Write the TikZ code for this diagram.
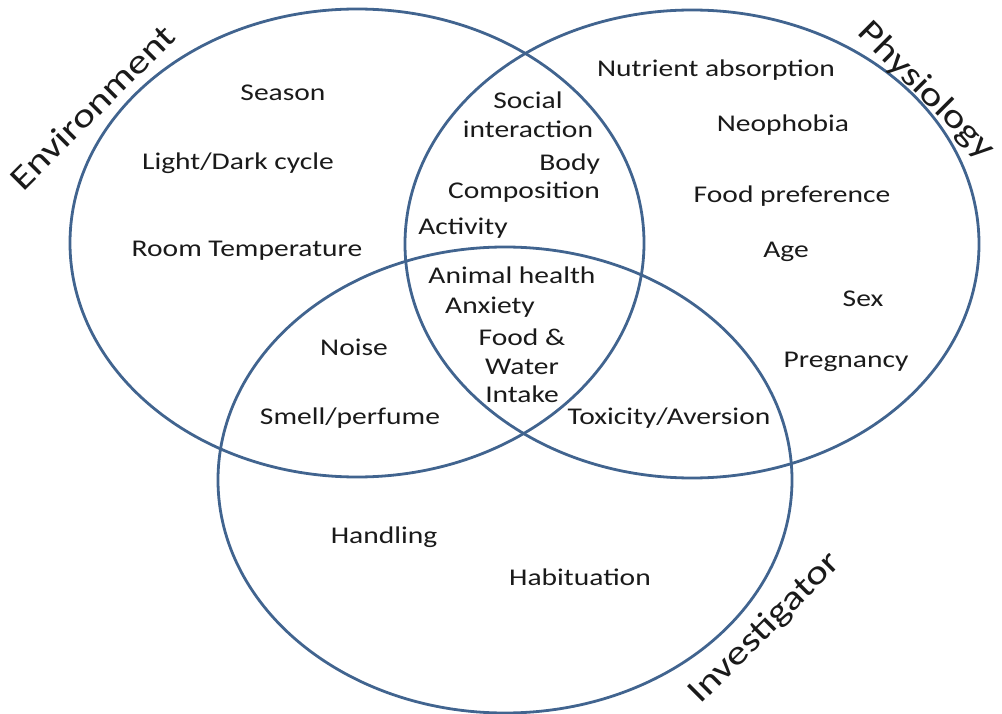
\documentclass[tikz,border=0pt]{standalone}
\usepackage{fontspec}
\setmainfont{Carlito}[FakeStretch=1.23]
\usetikzlibrary{positioning}
\definecolor{vennblue}{HTML}{41648F}
\definecolor{ink}{HTML}{1A1A1A}
\tikzset{
  vring/.style={draw=vennblue, line width=2.8pt},
  fac/.style={font=\fontsize{24}{28.7}\selectfont, text=ink, inner sep=0pt, align=center},
  ttl/.style={font=\fontsize{34}{40}\selectfont, text=ink, inner sep=0pt},
}

\begin{document}
\begin{tikzpicture}[x=1pt, y=-1pt]
  \useasboundingbox (0,0) rectangle (1002,714);

  %% ============================================
  %% THE THREE SETS
  %% ============================================
  \draw[vring] (357,243) ellipse [x radius=287, y radius=234]; % environment
  \draw[vring] (692,244) ellipse [x radius=287, y radius=234]; % physiology
  \draw[vring] (505,480) ellipse [x radius=287, y radius=233]; % investigator

  % Set titles, along the rims
  \node[ttl, rotate=45] (tEnv) at (92,107) {Environment};
  \node[ttl, rotate=-45] (tPhy) at (926,91) {Physiology};
  \node[ttl, rotate=45] (tInv) at (765,628) {Investigator};

  %% ============================================
  %% ENVIRONMENT ONLY
  %% ============================================
  \node[fac] (season) at (283,93) {Season};
  \node[fac] (light) at (238,163) {Light/Dark cycle};
  \node[fac] (room) at (247,251) {Room Temperature};

  %% ============================================
  %% PHYSIOLOGY ONLY
  %% ============================================
  \node[fac] (nutr) at (716,70) {Nutrient absorption};
  \node[fac] (neo) at (783,125) {Neophobia};
  \node[fac] (pref) at (792,196) {Food preference};
  \node[fac] (age) at (786,252) {Age};
  \node[fac] (sex) at (863,299) {Sex};
  \node[fac] (preg) at (846,362) {Pregnancy};

  %% ============================================
  %% OVERLAPS
  %% ============================================
  % Environment & physiology
  \node[fac] (social) at (528,115) {Social\\interaction};
  \node[fac, align=right] (body) at (524,178) {Body\\Composition};
  \node[fac] (activity) at (463,228) {Activity};

  % All three
  \node[fac] (health) at (512,275) {Animal health};
  \node[fac] (anxiety) at (490,307) {Anxiety};
  \node[fac] (intake) at (522,366) {Food \&\\Water\\Intake};

  % Environment & investigator
  \node[fac] (noise) at (354,347) {Noise};
  \node[fac] (smell) at (350,418) {Smell/perfume};

  % Physiology & investigator
  \node[fac] (toxic) at (669,418) {Toxicity/Aversion};

  %% ============================================
  %% INVESTIGATOR ONLY
  %% ============================================
  \node[fac] (handling) at (384,537) {Handling};
  \node[fac] (habit) at (580,577) {Habituation};
\end{tikzpicture}
\end{document}
